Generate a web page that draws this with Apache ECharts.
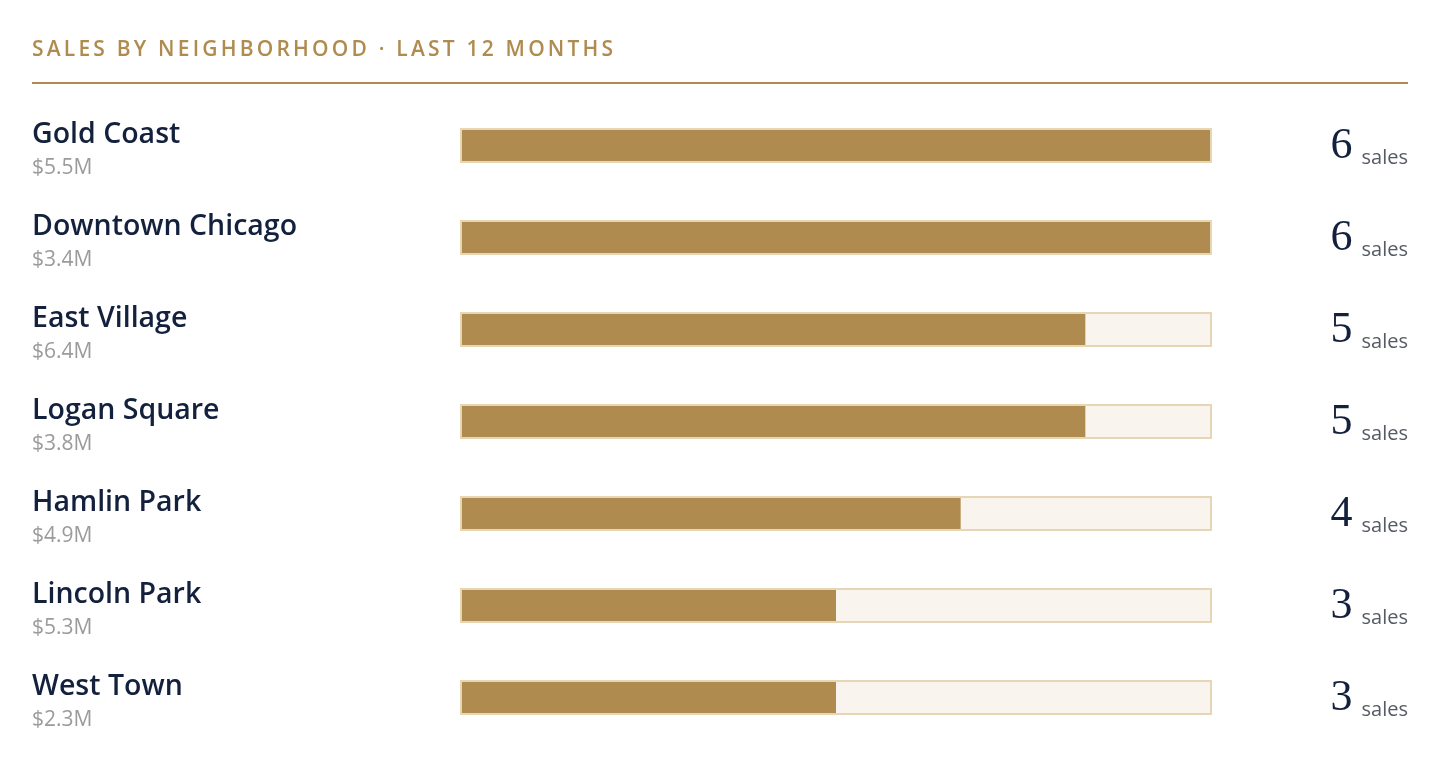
<!DOCTYPE html>
<html>
<head>
<meta charset="utf-8">
<script src="https://cdn.jsdelivr.net/npm/echarts@6/dist/echarts.min.js"></script>
<style>
html,body{margin:0;padding:0;background:#fff;}
#wrap{position:relative;width:1440px;height:776px;}
#title{position:absolute;left:32px;top:34px;font-family:"Open Sans",sans-serif;font-weight:600;font-size:21px;letter-spacing:3.2px;color:#b08b4f;white-space:nowrap;}
#chart{position:absolute;left:0;top:0;width:1440px;height:776px;}
</style>
</head>
<body>
<div id="wrap">
<div id="chart"></div>
<div id="title">SALES BY NEIGHBORHOOD · LAST 12 MONTHS</div>
</div>
<script>
const neighborhoods = ["Gold Coast","Downtown Chicago","East Village","Logan Square","Hamlin Park","Lincoln Park","West Town"];
const volumes = ["$5.5M","$3.4M","$6.4M","$3.8M","$4.9M","$5.3M","$2.3M"];
const salesCounts = [6,6,5,5,4,3,3];
const maxSales = 6;

const GOLD = '#b08b4f', BORDER = '#e7d6b6', TRACK = '#f9f5ee', NAVY = '#14213d';

const chart = echarts.init(document.getElementById('chart'));
chart.setOption({
  animation: false,
  grid: {left: 462, right: 230, top: 99.5, bottom: 32.5},
  xAxis: {type: 'value', min: 0, max: maxSales, show: false},
  yAxis: [
    {type: 'category', data: neighborhoods, inverse: true,
     axisLine: {show: false}, axisTick: {show: false}, splitLine: {show: false},
     axisLabel: {
       align: 'left', margin: 430,
       formatter: function (v, i) { return '{n|' + v + '}\n{v|' + volumes[i] + '}'; },
       rich: {
         n: {fontFamily: 'Open Sans', fontWeight: 600, fontSize: 28.5, color: NAVY, lineHeight: 46},
         v: {fontFamily: 'Open Sans', fontSize: 21, color: '#9b9b9b', lineHeight: 22}
       }
     }},
    {type: 'category', data: neighborhoods, inverse: true, position: 'right',
     axisLine: {show: false}, axisTick: {show: false}, splitLine: {show: false},
     axisLabel: {
       align: 'right', margin: 198,
       formatter: function (v, i) { return '{n|' + salesCounts[i] + '}{s|sales}'; },
       rich: {
         n: {fontFamily: 'Liberation Serif', fontSize: 44, color: NAVY, verticalAlign: 'bottom', lineHeight: 46},
         s: {fontFamily: 'Open Sans', fontSize: 20, color: '#555a63', verticalAlign: 'bottom', lineHeight: 42, padding: [0, 0, 0, 9]}
       }
     }}
  ],
  graphic: [
    {type: 'rect', shape: {x: 32, y: 82, width: 1376, height: 2}, style: {fill: GOLD}}
  ],
  series: [{
    type: 'custom',
    encode: {x: 0, y: 1},
    data: salesCounts.map(function (c, i) { return [c, i]; }),
    renderItem: function (params, api) {
      const idx = api.value(1);
      const p0 = api.coord([0, idx]);
      const pMax = api.coord([maxSales, idx]);
      const pVal = api.coord([api.value(0), idx]);
      const cy = p0[1];
      return {
        type: 'group',
        children: [
          {type: 'rect', shape: {x: p0[0] - 1, y: cy - 16.5, width: pMax[0] - p0[0] + 2, height: 33},
           style: {fill: TRACK, stroke: BORDER, lineWidth: 2}},
          {type: 'rect', shape: {x: p0[0], y: cy - 15.5, width: pVal[0] - p0[0], height: 31},
           style: {fill: GOLD}}
        ]
      };
    }
  }]
});
</script>
</body>
</html>
